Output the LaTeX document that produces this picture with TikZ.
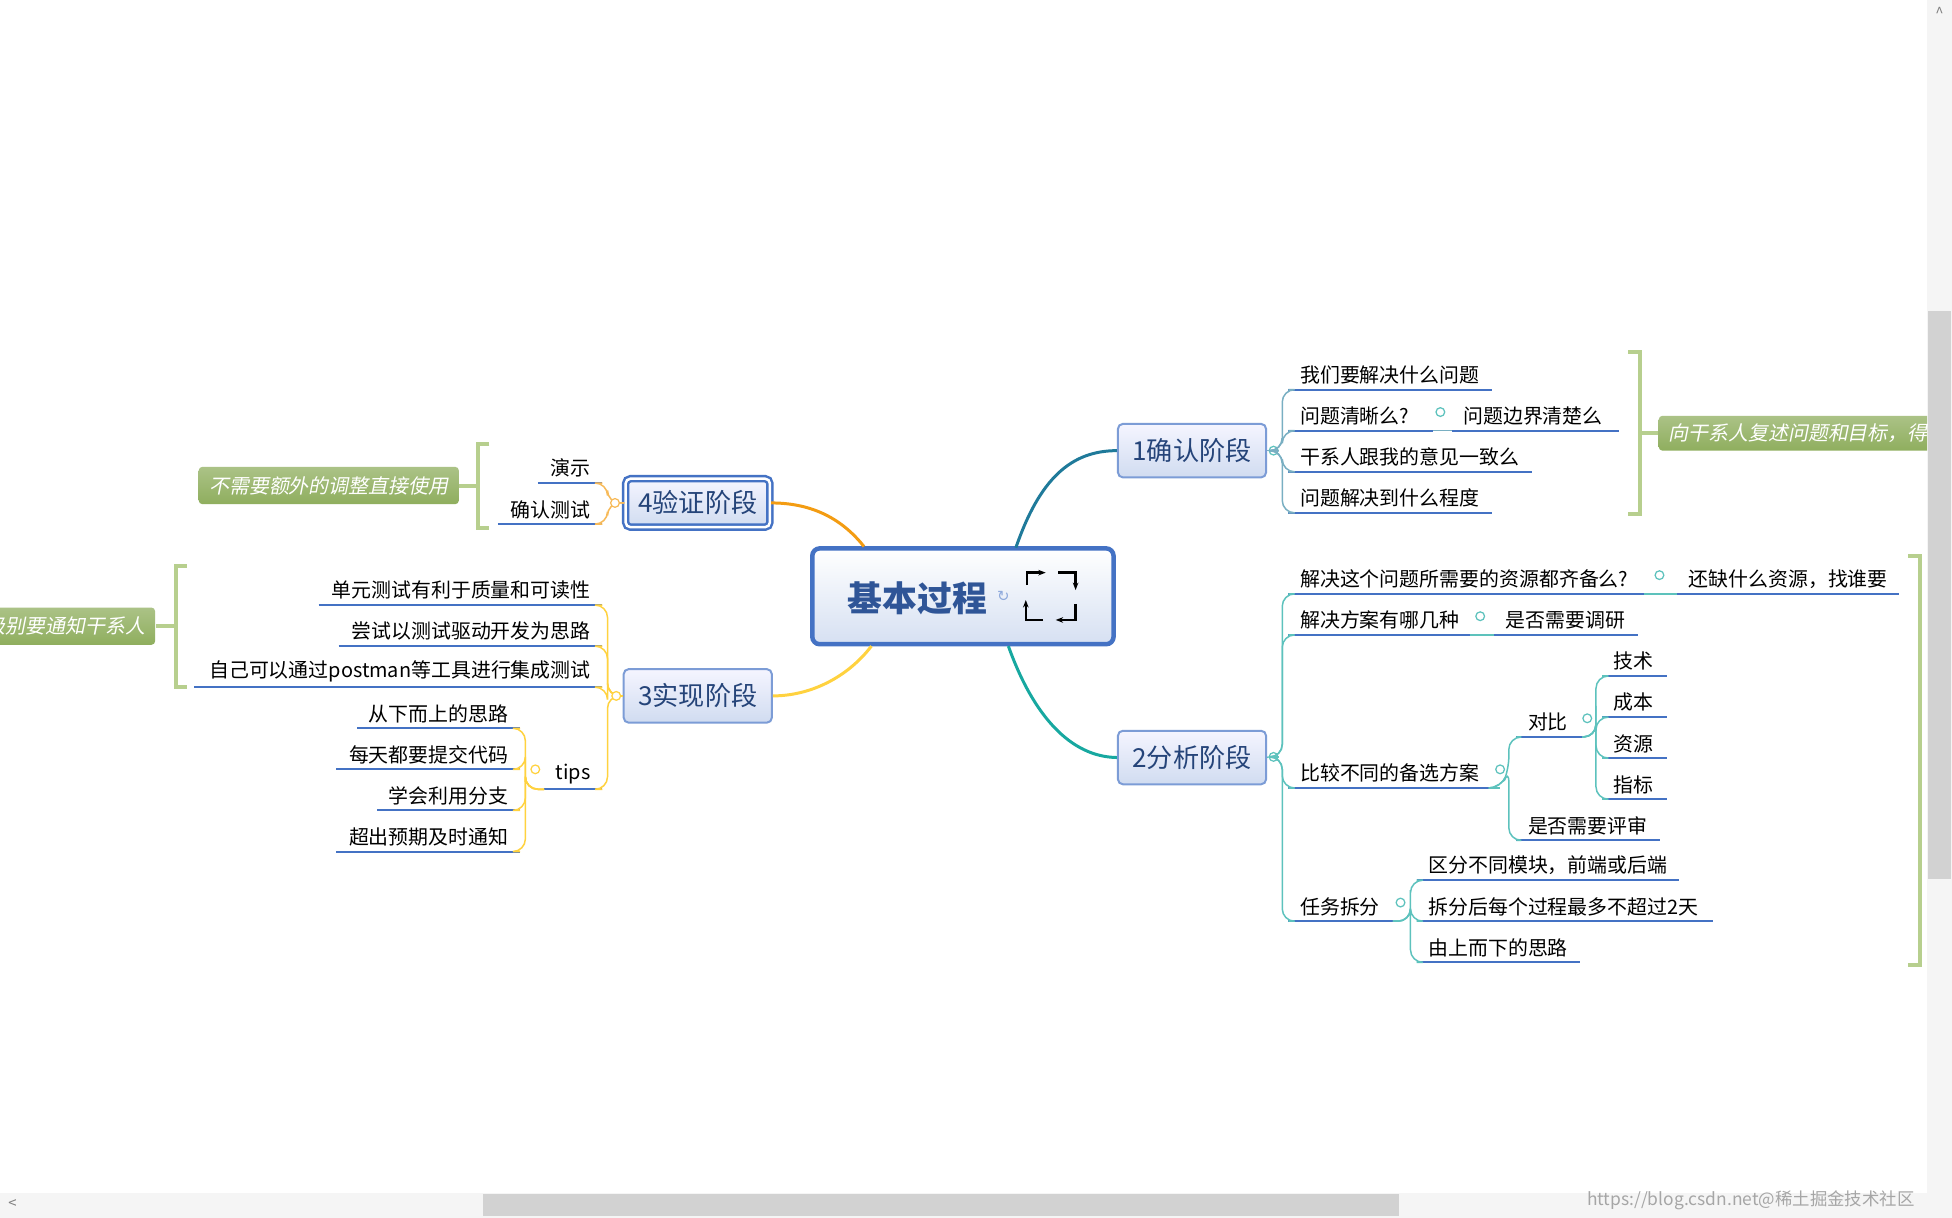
\documentclass[tikz,border=0pt]{standalone}
\usepackage{fontspec}
\setmainfont{Noto Sans CJK SC}
\newfontfamily\itcjk[FakeSlant=0.2]{Noto Sans CJK SC}
\newfontfamily\djv{DejaVu Sans}
\usetikzlibrary{arrows.meta}
\definecolor{ub}{HTML}{4472C4}
\definecolor{c1}{HTML}{1F7A9A}
\definecolor{c2}{HTML}{17A8A0}
\definecolor{c3}{HTML}{FFD23F}
\definecolor{c4}{HTML}{F39C12}
\definecolor{gr}{HTML}{B7CF8E}
\definecolor{gbox}{HTML}{8FAE5E}
\definecolor{dk}{HTML}{2F5597}
\tikzset{
 leaf/.style={inner xsep=4.5pt,inner ysep=2pt,font=\fontsize{8}{9}\selectfont},
 uline/.style={draw=ub,line width=0.8pt},
 phase/.style={draw=ub!70,line width=0.8pt,rounded corners=2pt,top color=blue!4,bottom color=ub!25,font=\fontsize{10.5}{12}\selectfont,text=dk!80!black,minimum width=59.5pt,minimum height=21.5pt},
 coll/.style={circle,draw=c2!70,fill=white,inner sep=0pt,minimum size=3.5pt,line width=0.5pt},
 sp1/.style={draw=c1!60,line width=0.6pt,rounded corners=5pt},
 sp2/.style={draw=c2!70,line width=0.6pt,rounded corners=5pt},
 sp3/.style={draw=c3,line width=0.6pt,rounded corners=5pt},
 sp4/.style={draw=c4!70,line width=0.6pt,rounded corners=5pt},
 brk/.style={draw=gr,line width=1.6pt},
 gnote/.style={rounded corners=1.5pt,top color=gbox!75,bottom color=gbox,text=white,font=\fontsize{8}{9}\selectfont\itcjk,inner sep=0pt,anchor=west}
}
\newcommand\leaf[6]{\pgfmathsetmacro\tw{(#3-#2)*0.5-9}%
\node[leaf,text width=\tw pt,align=#6,anchor=south west] (#1) at (#2,#4) {#5};
\draw[uline] (#1.south west) -- (#1.south east);}
\begin{document}
\begin{tikzpicture}[x=0.5pt,y=-0.5pt]
\useasboundingbox (0,0) rectangle (1568,978);
\fill[white] (0,0) rectangle (1568,978);
% scrollbars
\fill[gray!8] (1548,0) rectangle (1568,958);
\fill[gray!35] (1549,250) rectangle (1567,706);
\fill[gray!8] (0,958) rectangle (1568,978);
\fill[gray!35] (388,959) rectangle (1124,977);
\node[font=\fontsize{6}{7}\selectfont,text=gray] (scl) at (10,967) {<};
\node[font=\fontsize{6}{7}\selectfont,text=gray] (scu) at (1558,10) {\^{}};
% central
\node[draw=ub,line width=1.8pt,rounded corners=3pt,top color=white,bottom color=ub!22,minimum width=121pt,minimum height=38.5pt] (center) at (773.5,479) {};
\node[font=\fontsize{14}{16}\selectfont\bfseries,text=dk] (ctext) at (737,481) {基本过程};
\node[text=ub!60,font=\fontsize{6}{7}\selectfont\djv] (cicon) at (806,479) {↻};
\begin{scope}[line width=1pt,-{Stealth[length=3pt]}]
\draw (825,470) -- (825,460) -- (840,460);
\draw (850,460) -- (864,460) -- (864,474);
\draw (864,485) -- (864,498) -- (848,498);
\draw (838,498) -- (824,498) -- (824,482);
\end{scope}
% phases
\node[phase] (p1) at (957.5,362) {1确认阶段};
\node[phase] (p2) at (957.5,608.5) {2分析阶段};
\node[phase] (p3) at (560.5,559) {3实现阶段};
\node[phase,double=white,double distance=1pt,draw=ub,line width=1pt,minimum width=58pt,minimum height=19.5pt] (p4) at (560.5,404) {4验证阶段};
\draw[c1,line width=1.2pt] (816,440) .. controls (835,385) and (860,362) .. (p1.west);
\draw[c2,line width=1.2pt] (810,519) .. controls (830,575) and (860,608) .. (p2.west);
\draw[c3,line width=1.2pt] (700,519) .. controls (680,545) and (650,559) .. (p3.east);
\draw[c4,line width=1.2pt] (694,439) .. controls (675,415) and (650,404) .. (p4.east);
% branch 1
\node[coll] (k1) at (1023,362) {};
\draw[c1!60,line width=0.6pt] (p1.east) -- (k1.west);
\leaf{a1}{1035}{1198}{313}{我们要解决什么问题}{left}
\leaf{a2}{1035}{1150}{346}{问题清晰么?}{left}
\leaf{a3}{1035}{1230}{379}{干系人跟我的意见一致么}{left}
\leaf{a4}{1035}{1198}{412}{问题解决到什么程度}{left}
\foreach \n in {a1,a2,a3,a4} \draw[sp1] (k1.east) -- (1030,362) |- (\n.south west);
\leaf{a21}{1166}{1300}{346}{问题边界清楚么}{left}
\draw[c1!60,line width=0.6pt] (a2.south east) -- (a21.south west);
\node[coll] (k1b) at (1157,331) {};
\draw[brk] (1308,283) -- (1317,283) -- (1317,413) -- (1308,413);
\draw[brk] (1317,348) -- (1332,348);
\begin{scope}
\clip (1320,320) rectangle (1548,370);
\node[gnote,minimum height=14pt,text width=120pt] (n1) at (1332,348) {\hspace*{4pt}向干系人复述问题和目标，得到确认};
\end{scope}
% branch 2
\node[coll] (k2) at (1023,608) {};
\draw[c2!70,line width=0.6pt] (p2.east) -- (k2.west);
\leaf{b1}{1035}{1320}{477}{解决这个问题所需要的资源都齐备么?}{left}
\leaf{b2}{1035}{1180}{510}{解决方案有哪几种}{left}
\leaf{b3}{1035}{1198}{633}{比较不同的备选方案}{left}
\leaf{b4}{1035}{1118}{740}{任务拆分}{left}
\foreach \n in {b1,b2,b3,b4} \draw[sp2] (k2.east) -- (1030,608) |- (\n.south west);
\leaf{b11}{1347}{1525}{477}{还缺什么资源，找谁要}{left}
\draw[c2!70,line width=0.6pt] (b1.south east) -- (b11.south west);
\node[coll] (k21) at (1333,462) {};
\leaf{b21}{1200}{1315}{510}{是否需要调研}{left}
\draw[c2!70,line width=0.6pt] (b2.south east) -- (b21.south west);
\node[coll] (k22) at (1189,495) {};
\draw[c2!70,line width=0.6pt] (b3.south east) -- ++(6,0);
\leaf{b31}{1218}{1270}{592}{对比}{left}
\leaf{b32}{1218}{1333}{675}{是否需要评审}{left}
\foreach \n in {b31,b32} \draw[sp2] (b3.south east) -- ++(7,0) -- (1212,618) |- (\n.south west);
\node[coll] (k23) at (1205,618) {};
\leaf{t1}{1287}{1338}{543}{技术}{left}
\leaf{t2}{1287}{1338}{576}{成本}{left}
\leaf{t3}{1287}{1338}{609}{资源}{left}
\leaf{t4}{1287}{1338}{642}{指标}{left}
\foreach \n in {t1,t2,t3,t4} \draw[sp2] (b31.south east) -- (1282,592) -- (1282,577) |- (\n.south west);
\node[coll] (k24) at (1275,577) {};
\leaf{s1}{1138}{1348}{707}{区分不同模块，前端或后端}{left}
\leaf{s2}{1138}{1375}{740}{拆分后每个过程最多不超过2天}{left}
\leaf{s3}{1138}{1268}{773}{由上而下的思路}{left}
\foreach \n in {s1,s2,s3} \draw[sp2] (b4.south east) -- (1133,740) -- (1133,725) |- (\n.south west);
\node[coll] (k25) at (1125,725) {};
\draw[brk] (1533,447) -- (1542,447) -- (1542,775) -- (1533,775);
% branch 3
\leaf{d1}{256}{483}{486}{单元测试有利于质量和可读性}{right}
\leaf{d2}{272}{483}{519}{尝试以测试驱动开发为思路}{right}
\leaf{d3}{156}{483}{552}{自己可以通过postman等工具进行集成测试}{right}
\leaf{d4}{437}{483}{634}{tips}{right}
\foreach \n in {d1,d2,d3,d4} \draw[sp3] (p3.west) -- (488,559) |- (\n.south east);
\node[coll,draw=c3] (k3) at (495,559) {};
\leaf{e1}{287}{417}{585}{从下而上的思路}{right}
\leaf{e2}{270}{417}{618}{每天都要提交代码}{right}
\leaf{e3}{303}{417}{651}{学会利用分支}{right}
\leaf{e4}{270}{417}{684}{超出预期及时通知}{right}
\foreach \n in {e1,e2,e3,e4} \draw[sp3] (d4.south west) -- (422,634) -- (422,618) |- (\n.south east);
\node[coll,draw=c3] (k31) at (430,618) {};
\draw[brk] (150,455) -- (141,455) -- (141,552) -- (150,552);
\draw[brk] (141,503) -- (125,503);
\begin{scope}
\clip (0,480) rectangle (126,525);
\node[gnote,minimum height=15pt,anchor=east,text width=70pt,align=right] (n3) at (125,503) {级别要通知干系人\hspace*{4pt}};
\end{scope}
% branch 4
\leaf{f1}{432}{483}{388}{演示}{right}
\leaf{f2}{400}{483}{421}{确认测试}{right}
\foreach \n in {f1,f2} \draw[sp4] (p4.west) -- (488,404) |- (\n.south east);
\node[coll,draw=c4!70] (k4) at (494,404) {};
\draw[brk] (393,357) -- (384,357) -- (384,424) -- (393,424);
\draw[brk] (384,390) -- (369,390);
\node[gnote,minimum height=15pt,anchor=east,text width=104.5pt,align=center] (n4) at (369,390) {不需要额外的调整直接使用};
% watermark
\node[anchor=east,font=\fontsize{7}{8}\selectfont,text=gray!70] (wm) at (1545,964) {https://blog.csdn.net@稀土掘金技术社区};
\end{tikzpicture}
\end{document}
